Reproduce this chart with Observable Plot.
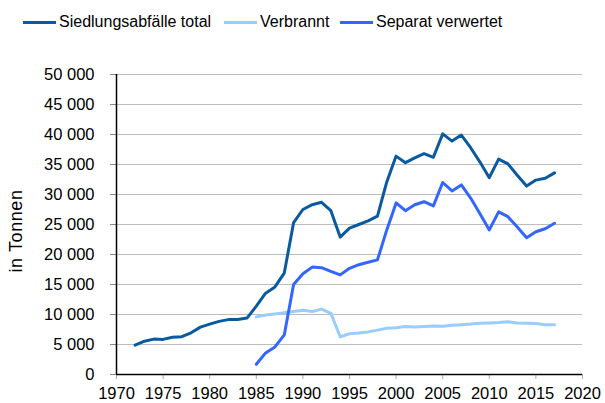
<!DOCTYPE html>
<html>
<head>
<meta charset="utf-8">
<script src="https://cdn.jsdelivr.net/npm/d3@7"></script>
<script src="https://cdn.jsdelivr.net/npm/@observablehq/plot@0.6"></script>
<style>
  html, body { margin: 0; padding: 0; background: #fff; }
  #wrap { position: relative; width: 605px; height: 403px; font-family: "Liberation Sans", Arial, sans-serif; }
  #legend { position: absolute; left: 0; top: 0; width: 605px; height: 45px; }
  .item { position: absolute; top: 12px; height: 20px; display: flex; align-items: center; font-size: 16px; color: #000; white-space: nowrap; }
  .swatch { width: 33px; height: 3px; margin-right: 3px; }
  #ylab { position: absolute; left: 16px; top: 231px; transform: translate(-50%, -50%) rotate(-90deg); font-size: 18px; letter-spacing: 0.6px; white-space: nowrap; }
</style>
</head>
<body>
<div id="wrap">
  <div id="chart"></div>
  <div id="legend"></div>
  <div id="ylab">in Tonnen</div>
</div>
<script>
const seriesNames = ["Siedlungsabfälle total", "Verbrannt", "Separat verwertet"];
const seriesColors = ["#0a5aa0", "#99ccff", "#3366ff"];

const yearsTotal = [1972, 1973, 1974, 1975, 1976, 1977, 1978, 1979, 1980, 1981, 1982, 1983, 1984,
  1985, 1986, 1987, 1988, 1989, 1990, 1991, 1992, 1993, 1994, 1995, 1996, 1997, 1998, 1999, 2000,
  2001, 2002, 2003, 2004, 2005, 2006, 2007, 2008, 2009, 2010, 2011, 2012, 2013, 2014, 2015, 2016, 2017];
const total = [4900, 5550, 5900, 5850, 6200, 6300, 6950, 7900, 8400, 8850, 9150, 9150, 9400,
  11400, 13550, 14600, 16900, 25300, 27500, 28300, 28700, 27300, 22900, 24400, 25000, 25600, 26400, 32100, 36400,
  35300, 36100, 36800, 36200, 40100, 38900, 39900, 37800, 35400, 32800, 35900, 35100, 33200, 31400, 32400, 32700, 33600];

const yearsSub = [1985, 1986, 1987, 1988, 1989, 1990, 1991, 1992, 1993, 1994, 1995, 1996, 1997, 1998, 1999, 2000,
  2001, 2002, 2003, 2004, 2005, 2006, 2007, 2008, 2009, 2010, 2011, 2012, 2013, 2014, 2015, 2016, 2017];
const verbrannt = [9600, 9900, 10100, 10300, 10500, 10700, 10500, 10900, 10200, 6300, 6800, 6900, 7100, 7400, 7700, 7800,
  8000, 7900, 8000, 8100, 8050, 8200, 8300, 8400, 8550, 8600, 8650, 8800, 8600, 8550, 8500, 8300, 8300];
const separat = [1700, 3600, 4600, 6600, 15000, 16800, 17900, 17800, 17200, 16600, 17700, 18300, 18700, 19100, 24100, 28600,
  27300, 28300, 28800, 28100, 32000, 30600, 31600, 29400, 26800, 24100, 27100, 26300, 24600, 22800, 23800, 24300, 25200];

const xTicks = [1970, 1975, 1980, 1985, 1990, 1995, 2000, 2005, 2010, 2015, 2020];
const yTicks = [0, 5000, 10000, 15000, 20000, 25000, 30000, 35000, 40000, 45000, 50000];

const data = [
  ...yearsTotal.map((y, i) => ({year: y, value: total[i], series: seriesNames[0]})),
  ...yearsSub.map((y, i) => ({year: y, value: verbrannt[i], series: seriesNames[1]})),
  ...yearsSub.map((y, i) => ({year: y, value: separat[i], series: seriesNames[2]}))
];

const fmt = d3.formatLocale({decimal: ",", thousands: " ", grouping: [3], currency: ["", ""]}).format(",d");

const chart = Plot.plot({
  width: 605,
  height: 403,
  marginTop: 74,
  marginBottom: 29,
  marginLeft: 116,
  marginRight: 23,
  style: {fontFamily: "'Liberation Sans', Arial, sans-serif", fontSize: "17px", color: "#000", background: "#fff", overflow: "visible"},
  x: {domain: [1970, 2020], label: null},
  y: {domain: [0, 50000], label: null},
  color: {domain: seriesNames, range: seriesColors},
  marks: [
    Plot.ruleY(yTicks.filter(d => d > 0), {stroke: "#bdbdbd", strokeWidth: 1}),
    Plot.axisY({ticks: yTicks, tickFormat: fmt, tickSize: 6, tickPadding: 16, stroke: "#888", label: null, fontSize: 16.5, style: {letterSpacing: "1.2px"}}),
    Plot.axisX({ticks: xTicks, tickFormat: d => String(d), tickSize: 5, tickPadding: 8, stroke: "#aaa", label: null, fontSize: 16.5}),
    Plot.ruleX([1970], {stroke: "#000", strokeWidth: 1.5}),
    Plot.ruleY([0], {stroke: "#000", strokeWidth: 1.5}),
    Plot.line(data, {x: "year", y: "value", z: "series", stroke: "series", strokeWidth: 3, strokeLinejoin: "round"})
  ]
});
document.getElementById("chart").appendChild(chart);

const legendPos = [{line: 23, text: 59}, {line: 224, text: 260}, {line: 340, text: 376}];
const legend = document.getElementById("legend");
seriesNames.forEach((name, i) => {
  const it = document.createElement("div");
  it.className = "item";
  it.style.left = legendPos[i].line + "px";
  const sw = document.createElement("div");
  sw.className = "swatch";
  sw.style.background = seriesColors[i];
  const tx = document.createElement("span");
  tx.textContent = name;
  it.appendChild(sw);
  it.appendChild(tx);
  legend.appendChild(it);
});
</script>
</body>
</html>
